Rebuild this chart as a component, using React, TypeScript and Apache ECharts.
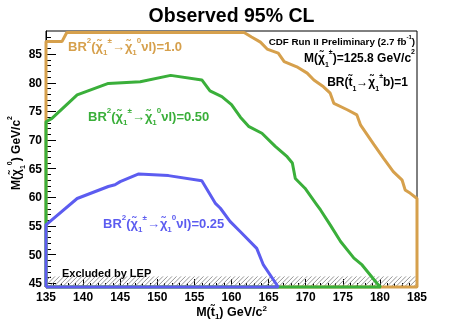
import { useEffect, useRef } from "react";
import * as echarts from "echarts";

const FONT = '"Liberation Sans", Arial, Helvetica, sans-serif';

// axis ranges and ticks
const xMin = 135;
const xMax = 185;
const yMin = 44.35;
const yMax = 89.05;
const yMajorTicks = [45, 50, 55, 60, 65, 70, 75, 80, 85];
const yMinorTicks = [46, 47, 48, 49, 51, 52, 53, 54, 56, 57, 58, 59, 61, 62, 63, 64, 66, 67, 68, 69, 71, 72, 73, 74, 76, 77, 78, 79, 81, 82, 83, 84, 86, 87, 88];

// LEP excluded region upper edge (GeV/c^2)
const lepLimit = 46.2;

// BR^2 = 1.0 contour
const br100X = [135, 137.15, 137.8, 161.7, 162.7, 163.9, 164.8, 166.3, 167.1, 168.8, 170.2, 171.1, 172.4, 173.3, 173.8, 175.6, 176.9, 177.4, 178.3, 179.2, 180.5, 181.8, 183.0, 183.4, 184.1, 185];
const br100Y = [87.2, 87.2, 88.8, 88.8, 88.0, 87.1, 85.9, 85.2, 83.7, 82.8, 81.7, 80.5, 79.3, 78.2, 76.4, 75.3, 74.4, 72.6, 70.9, 69.2, 66.8, 64.5, 63.0, 61.3, 60.7, 59.8];

// BR^2 = 0.50 contour
const br050X = [135, 135.8, 139.2, 143.4, 147.7, 151.8, 156.0, 157.1, 158.7, 160.0, 161.2, 162.3, 164.1, 165.9, 167.5, 168.2, 168.6, 169.9, 171.5, 172.0, 173.3, 174.7, 176.5, 177.6, 179.6, 180.1];
const br050Y = [73.2, 73.8, 77.9, 79.9, 80.2, 81.3, 80.5, 78.6, 77.6, 76.2, 74.0, 72.4, 71.2, 68.9, 67.1, 66.0, 63.3, 61.6, 58.7, 57.8, 55.2, 52.3, 49.4, 48.2, 45.0, 44.35];

// BR^2 = 0.25 contour
const br025X = [135, 139.2, 143.4, 144.3, 145.0, 147.5, 151.5, 156.0, 157.8, 158.5, 159.8, 161.2, 163.4, 164.3, 166.3];
const br025Y = [55.2, 59.8, 61.9, 62.2, 62.75, 64.1, 63.8, 62.9, 59.0, 58.1, 55.8, 54.0, 51.1, 48.2, 44.35];

const ORANGE = "#d6a04c";
const GREEN = "#3aaf3a";
const BLUE = "#5c5cf0";

function contour(xs: number[], ys: number[]) {
  const pts: number[][] = [[xMin, yMin]];
  xs.forEach((x, i) => pts.push([x, ys[i]]));
  const last = pts[pts.length - 1];
  if (last[1] !== yMin) pts.push([last[0], yMin]);
  pts.push([xMin, yMin]);
  return pts;
}

function rich(color: string, size: number, lh = 20) {
  const base = { color, fontFamily: FONT, fontWeight: "bold" as const };
  return {
    n: { ...base, fontSize: size, lineHeight: lh },
    sup: { ...base, fontSize: Math.round(size * 0.62), lineHeight: lh / 2, verticalAlign: "top" as const },
    sub: { ...base, fontSize: Math.round(size * 0.62), lineHeight: lh / 2, verticalAlign: "bottom" as const },
  };
}

const CHI = "\u03C7\u0303";
const brLabel = (v: string) =>
  `{n|BR}{sup|2}{n|(${CHI}}{sub|1}{sup|±}{n|→${CHI}}{sub|1}{sup|0}{n|νl)=${v}}`;

export default function App() {
  const ref = useRef<HTMLDivElement>(null);
  useEffect(() => {
    if (!ref.current) return;
    const chart = echarts.init(ref.current, undefined, { renderer: "svg" });
    const axisFont = { fontFamily: FONT, fontWeight: "bold" as const, fontSize: 12, color: "#000" };
    chart.setOption({
      animation: false,
      title: [
        { text: "Observed 95% CL", left: "center", top: 5, padding: 0, textStyle: { fontFamily: FONT, fontWeight: "bold", fontSize: 19.5, color: "#000" } },
        { text: brLabel("1.0"), left: 68, top: 36, padding: 0, textStyle: { rich: rich(ORANGE, 13) } },
        { text: brLabel("0.50"), left: 88, top: 106, padding: 0, textStyle: { rich: rich(GREEN, 13) } },
        { text: brLabel("0.25"), left: 103, top: 213, padding: 0, textStyle: { rich: rich(BLUE, 13) } },
        { text: "{n|CDF Run II Preliminary (2.7 fb}{sup|-1}{n|)}", right: 48, top: 34, padding: 0, textStyle: { rich: rich("#000", 9.8, 14) } },
        { text: `{n|M(${CHI}}{sub|1}{sup|±}{n|)=125.8 GeV/c}{sup|2}`, right: 48, top: 48, padding: 0, textStyle: { rich: rich("#000", 12) } },
        { text: `{n|BR(t\u0303}{sub|1}{n|→${CHI}}{sub|1}{sup|±}{n|b)=1}`, right: 55, top: 72, padding: 0, textStyle: { rich: rich("#000", 12) } },
        { text: "Excluded by LEP", left: 62, top: 266, padding: 0, textStyle: { fontFamily: FONT, fontWeight: "bold", fontSize: 11, color: "#000", lineHeight: 14 } },
      ],
      grid: { left: 46, right: 46, top: 31, bottom: 33, outerBoundsMode: "none", containLabel: false, show: true, borderColor: "#000", borderWidth: 1, backgroundColor: "transparent" },
      xAxis: {
        type: "value",
        min: xMin,
        max: xMax,
        interval: 5,
        name: `{n|M(t\u0303}{sub|1}{n|) GeV/c}{sup|2}`,
        nameLocation: "middle",
        nameGap: 17,
        nameMoveOverlap: false,
        nameTextStyle: { rich: rich("#000", 12.5, 16) },
        axisLine: { show: true, lineStyle: { color: "#000", width: 1 } },
        axisTick: { show: true, inside: true, length: 8, lineStyle: { color: "#000" } },
        minorTick: { show: true, splitNumber: 5, length: 4, lineStyle: { color: "#000" } },
        axisLabel: { ...axisFont, margin: 4, showMinLabel: true, showMaxLabel: true },
        splitLine: { show: false },
      },
      yAxis: [
        {
          type: "value",
          min: yMin,
          max: yMax,
          position: "left",
          name: `{n|M(${CHI}}{sub|1}{sup|0}{n|) GeV/c}{sup|2}`,
          nameLocation: "middle",
          nameRotate: 90,
          nameGap: 20,
          nameMoveOverlap: false,
          nameTextStyle: { rich: rich("#000", 12), padding: [0, 0, 0, 12] },
          axisLine: { show: true, lineStyle: { color: "#000", width: 1 } },
          axisTick: { show: true, inside: true, length: 10, customValues: yMajorTicks, lineStyle: { color: "#000" } },
          axisLabel: { ...axisFont, margin: 4, customValues: yMajorTicks },
          splitLine: { show: false },
        },
        {
          type: "value",
          min: yMin,
          max: yMax,
          position: "left",
          axisLine: { show: false },
          axisTick: { show: true, inside: true, length: 5, customValues: yMinorTicks, lineStyle: { color: "#000" } },
          axisLabel: { show: false },
          splitLine: { show: false },
        },
      ],
      series: [
        {
          type: "custom",
          clip: true,
          z: 1,
          silent: true,
          data: [[xMin, lepLimit]],
          renderItem: (_p: any, api: any) => {
            const bl = api.coord([xMin, yMin]);
            const tr = api.coord([xMax, lepLimit]);
            const h = bl[1] - tr[1];
            const children: any[] = [];
            for (let x = bl[0] - h; x < tr[0]; x += 4.5) {
              children.push({ type: "line", shape: { x1: x, y1: bl[1], x2: x + h, y2: tr[1] }, style: { stroke: "#888", lineWidth: 0.9 } });
            }
            return { type: "group", children };
          },
        },
        { type: "line", data: contour(br100X, br100Y), showSymbol: false, clip: false, z: 3, lineStyle: { color: ORANGE, width: 3 }, itemStyle: { color: ORANGE } },
        { type: "line", data: contour(br050X, br050Y), showSymbol: false, clip: false, z: 4, lineStyle: { color: GREEN, width: 3 }, itemStyle: { color: GREEN } },
        { type: "line", data: contour(br025X, br025Y), showSymbol: false, clip: false, z: 5, lineStyle: { color: BLUE, width: 3 }, itemStyle: { color: BLUE } },
      ],
    });
    return () => chart.dispose();
  }, []);
  return <div ref={ref} style={{ position: "fixed", left: 0, top: 0, width: 463, height: 320 }} />;
}
